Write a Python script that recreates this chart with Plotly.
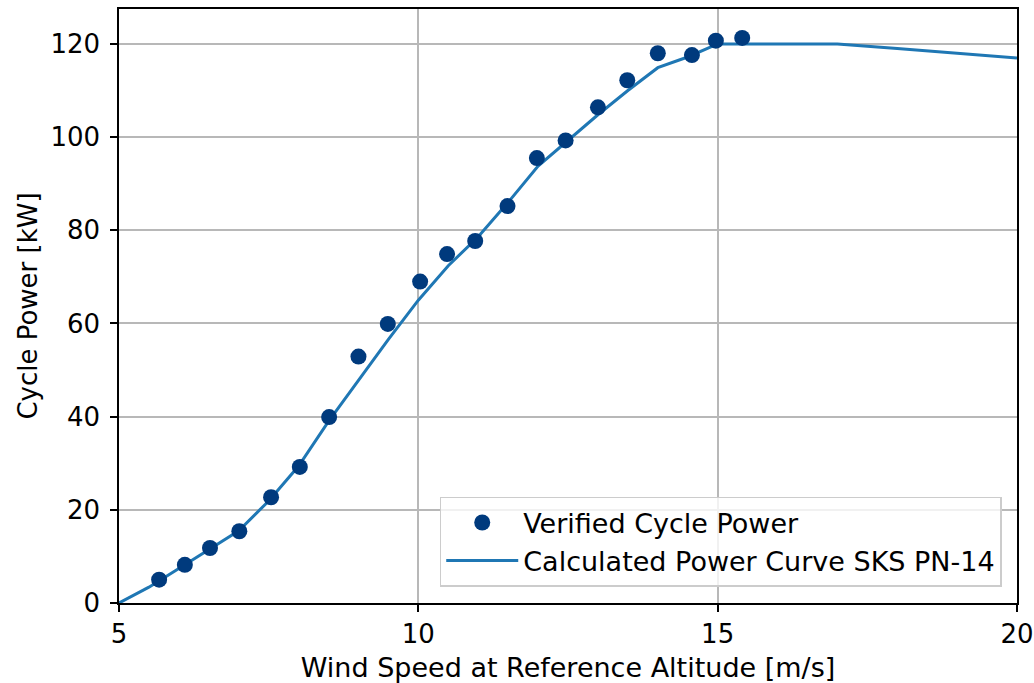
import plotly.graph_objects as go

# Measured (verified) cycle power
wind_measured = [5.67, 6.10, 6.52, 7.01, 7.54, 8.02, 8.51, 9.00, 9.49, 10.03, 10.48,
                 10.95, 11.49, 11.98, 12.46, 13.00, 13.49, 14.00, 14.57, 14.97, 15.41]
power_measured = [5.0, 8.2, 11.8, 15.4, 22.7, 29.2, 39.9, 52.9, 59.9, 69.0, 74.9,
                  77.7, 85.2, 95.5, 99.3, 106.4, 112.2, 118.0, 117.6, 120.7, 121.3]

# Calculated power curve
wind_curve = [5, 5.5, 6, 6.5, 7, 7.5, 8, 8.5, 9, 9.5, 10, 10.5, 11, 11.5, 12, 12.5,
              13, 13.5, 14, 14.5, 15, 16, 17, 18, 19, 20]
power_curve = [0, 3.4, 7.4, 11.5, 15.5, 21.9, 29.4, 39.0, 47.8, 56.6, 65.0, 72.4,
               78.6, 86.0, 93.8, 99.4, 104.8, 110.0, 114.9, 117.2, 120.0, 120.0,
               120.0, 119.0, 118.0, 117.0]

x_ticks = [5, 10, 15, 20]
y_ticks = [0, 20, 40, 60, 80, 100, 120]

FONT = "DejaVu Sans"

fig = go.Figure()
fig.add_trace(go.Scatter(
    x=wind_curve, y=power_curve, mode="lines",
    name="Calculated Power Curve SKS PN-14",
    line=dict(color="#1f77b4", width=3),
    legendrank=2,
))
fig.add_trace(go.Scatter(
    x=wind_measured, y=power_measured, mode="markers",
    name="Verified Cycle Power",
    marker=dict(color="#003a7d", size=16, line=dict(width=0)),
    legendrank=1,
))

axis_common = dict(
    showgrid=True, gridcolor="#b8b8b8", gridwidth=1.5,
    showline=True, linecolor="black", linewidth=1.5, mirror=True,
    ticks="outside", ticklen=7, tickwidth=1.5, tickcolor="black",
    zeroline=False, automargin=False,
    tickfont=dict(family=FONT, size=26, color="black"),
)

fig.update_layout(
    width=1034, height=683,
    margin=dict(l=119, r=17, t=9, b=80),
    paper_bgcolor="white", plot_bgcolor="white",
    font=dict(family=FONT, color="black"),
    showlegend=True,
    legend=dict(
        x=0.983, y=0.027, xanchor="right", yanchor="bottom",
        bgcolor="rgba(255,255,255,0.8)", bordercolor="#cccccc", borderwidth=1.5,
        font=dict(family=FONT, size=27, color="black"),
        itemwidth=72, tracegroupgap=0,
    ),
    xaxis=dict(
        range=[5, 20], tickvals=x_ticks, ticktext=[str(v) for v in x_ticks],
        title=dict(text="Wind Speed at Reference Altitude [m/s]",
                   font=dict(family=FONT, size=27, color="black"), standoff=11),
        **axis_common,
    ),
    yaxis=dict(
        range=[0, 127.5], tickvals=y_ticks, ticktext=[str(v) for v in y_ticks],
        title=dict(text="Cycle Power [kW]",
                   font=dict(family=FONT, size=26, color="black"), standoff=5),
        ticklabelstandoff=5,
        **axis_common,
    ),
)

fig.write_html(
    "out.html",
    config={"displayModeBar": False},
    post_script="document.body.style.margin='0';document.body.style.overflow='hidden';",
)
